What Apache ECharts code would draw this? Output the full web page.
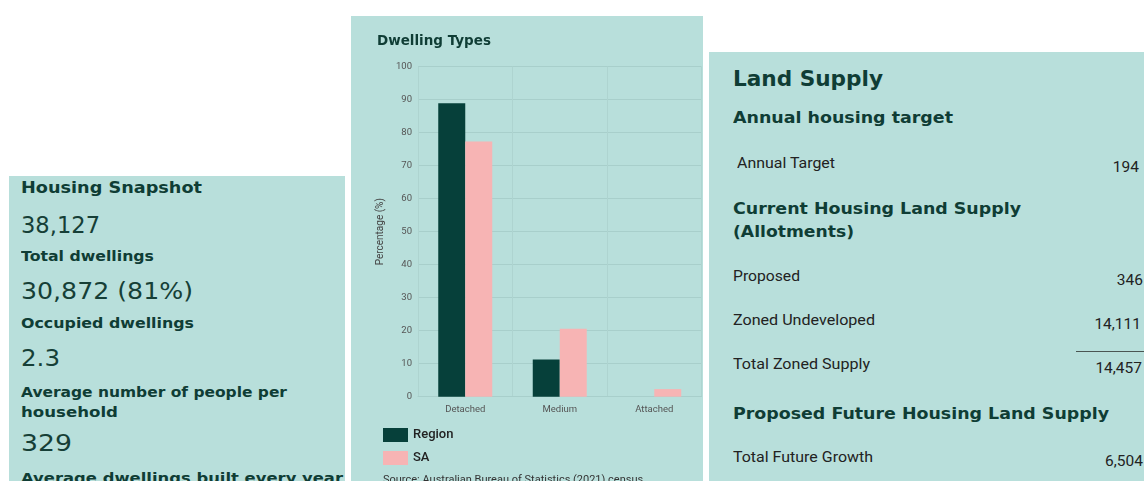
<!DOCTYPE html>
<html>
<head>
<meta charset="utf-8">
<script src="https://cdn.jsdelivr.net/npm/echarts@6/dist/echarts.min.js"></script>
<style>
  html, body { margin: 0; padding: 0; background: #ffffff; }
  body { width: 1144px; height: 481px; position: relative; overflow: hidden; }
  .panel { position: absolute; background: #b8dfdb; overflow: hidden; }
  .t { position: absolute; line-height: 1; white-space: nowrap; }
  .head { font-family: "DejaVu Sans", sans-serif; font-weight: bold; color: #0f3d35; }
  .big { font-family: "DejaVu Sans", sans-serif; font-weight: normal; color: #163f37; }
  .body { font-family: Roboto, sans-serif; color: #222; }
  .rule { position: absolute; background: #4a5552; }
</style>
</head>
<body>
<div id="snapshot" class="panel" style="left:9px;top:176px;width:336px;height:305px;"></div>
<div id="dwelling" class="panel" style="left:351px;top:16px;width:352px;height:465px;"></div>
<div id="land" class="panel" style="left:709px;top:52px;width:435px;height:429px;"></div>
<script>
// ---- Housing snapshot figures ----
const snapshotTitle = 'Housing Snapshot';
const snapshotValues = ['38,127', '30,872 (81%)', '2.3', '329'];
const snapshotLabels = [
  'Total dwellings',
  'Occupied dwellings',
  'Average number of people per\nhousehold',
  'Average dwellings built every year'
];

// ---- Dwelling types (% of dwellings) ----
const dwellingTypes = ['Detached', 'Medium', 'Attached'];
const regionShare = [88.9, 11.3, 0];
const saShare = [77.3, 20.6, 2.3];
const seriesNames = ['Region', 'SA'];
const chartTitle = 'Dwelling Types';
const yAxisTitle = 'Percentage (%)';
const sourceNote = 'Source: Australian Bureau of Statistics (2021) census';

// ---- Land supply ----
const landTitle = 'Land Supply';
const landSections = ['Annual housing target', 'Current Housing Land Supply\n(Allotments)', 'Proposed Future Housing Land Supply'];
const landItems = ['Annual Target', 'Proposed', 'Zoned Undeveloped', 'Total Zoned Supply', 'Total Future Growth'];
const landValues = ['194', '346', '14,111', '14,457', '6,504'];

// Place a text line by its baseline; an optional target width is reached by
// stretching the glyphs horizontally (the display face is an extended sans).
function addText(panel, text, cls, fs, x, baseline, width, alignRight) {
  const el = document.createElement('div');
  el.className = 't ' + cls;
  el.textContent = text;
  el.style.fontSize = fs + 'px';
  el.style.top = (baseline - 0.845 * fs) + 'px';
  if (alignRight) {
    el.style.right = (panel.clientWidth - x) + 'px';
    el.style.transformOrigin = 'right center';
  } else {
    el.style.left = x + 'px';
    el.style.transformOrigin = 'left center';
  }
  panel.appendChild(el);
  if (width) {
    const nat = el.getBoundingClientRect().width;
    el.style.transform = 'scaleX(' + (width / nat) + ')';
  }
  return el;
}

// Left panel
(function () {
  const p = document.getElementById('snapshot');
  addText(p, snapshotTitle, 'head', 15, 12, 17.3, 181);
  const valBase = [57, 123.3, 189.7, 274.7];
  const valW = [79, 172, 39, 51];
  const labBase = [85, 152.3, 221.3, 307];
  const labW = [[133], [173], [266, 97], [322]];
  snapshotValues.forEach((v, i) => addText(p, v, 'big', 22.5, 12, valBase[i], valW[i]));
  snapshotLabels.forEach((l, i) => {
    l.split('\n').forEach((line, j) => addText(p, line, 'head', 14, 12, labBase[i] + j * 19.4, labW[i][j]));
  });
})();

// Right panel
(function () {
  const p = document.getElementById('land');
  addText(p, landTitle, 'head', 20.5, 24, 34.7, 150);
  const secBase = [71.3, 162.3, 367.3];
  const secW = [[220], [288, 121], [376]];
  landSections.forEach((s, i) => {
    s.split('\n').forEach((line, j) => addText(p, line, 'head', 16, 24, secBase[i] + j * 23, secW[i][j]));
  });
  const itemX = [28, 24, 24, 24, 24];
  const itemBase = [117, 229.7, 273.7, 318, 410.7];
  const itemW = [98, 67, 142, 137, 140];
  const valRight = [430, 434, 432, 433, 434];
  landItems.forEach((t, i) => {
    addText(p, t, 'body', 15.5, itemX[i], itemBase[i], itemW[i]);
    addText(p, landValues[i], 'body', 15.5, valRight[i], itemBase[i] + 4.3, 0, true);
  });
  const rule = document.createElement('div');
  rule.className = 'rule';
  rule.style.cssText = 'left:367px;top:298.5px;width:68px;height:1.5px;';
  p.appendChild(rule);
})();

// Middle panel: grouped bar chart
(function () {
  const chart = echarts.init(document.getElementById('dwelling'), null, { renderer: 'canvas' });
  const gridH = '#a8cfcb';
  chart.setOption({
    backgroundColor: 'transparent',
    animation: false,
    title: {
      text: chartTitle,
      left: 26, top: 18, padding: 0,
      textStyle: { fontFamily: 'DejaVu Sans', fontWeight: 'bold', fontSize: 13.5, color: '#0f3d35' }
    },
    legend: {
      orient: 'vertical', left: 32, top: 412, padding: 0,
      itemWidth: 25, itemHeight: 14, itemGap: 9, icon: 'rect',
      textStyle: { fontFamily: 'Roboto', fontWeight: 500, fontSize: 13, color: '#222' },
      data: seriesNames
    },
    grid: { left: 67, top: 50.7, width: 283.5, height: 330 },
    xAxis: {
      type: 'category', data: dwellingTypes,
      axisLine: { show: true, lineStyle: { color: gridH } },
      axisTick: { show: false },
      splitLine: { show: true, lineStyle: { color: '#aed4d0' } },
      axisLabel: { fontFamily: 'Roboto', fontSize: 9.5, color: '#555', margin: 8 }
    },
    yAxis: {
      type: 'value', min: 0, max: 100, interval: 10,
      name: yAxisTitle, nameLocation: 'middle', nameGap: 26, nameRotate: 90,
      nameTextStyle: { fontFamily: 'Roboto', fontSize: 10, color: '#444' },
      axisLine: { show: false }, axisTick: { show: false },
      splitLine: { lineStyle: { color: gridH } },
      axisLabel: { fontFamily: 'Roboto', fontSize: 9.5, color: '#555', margin: 6 }
    },
    series: [
      { name: seriesNames[0], type: 'bar', data: regionShare, barWidth: 27, barGap: '0%',
        itemStyle: { color: '#06403a' } },
      { name: seriesNames[1], type: 'bar', data: saShare, barWidth: 27, barGap: '0%',
        itemStyle: { color: '#f7b4b4' } }
    ],
    graphic: [{
      type: 'text', left: 32, top: 459,
      style: { text: sourceNote, font: '11px Roboto', fill: '#333' }
    }]
  });
})();
</script>
</body>
</html>
